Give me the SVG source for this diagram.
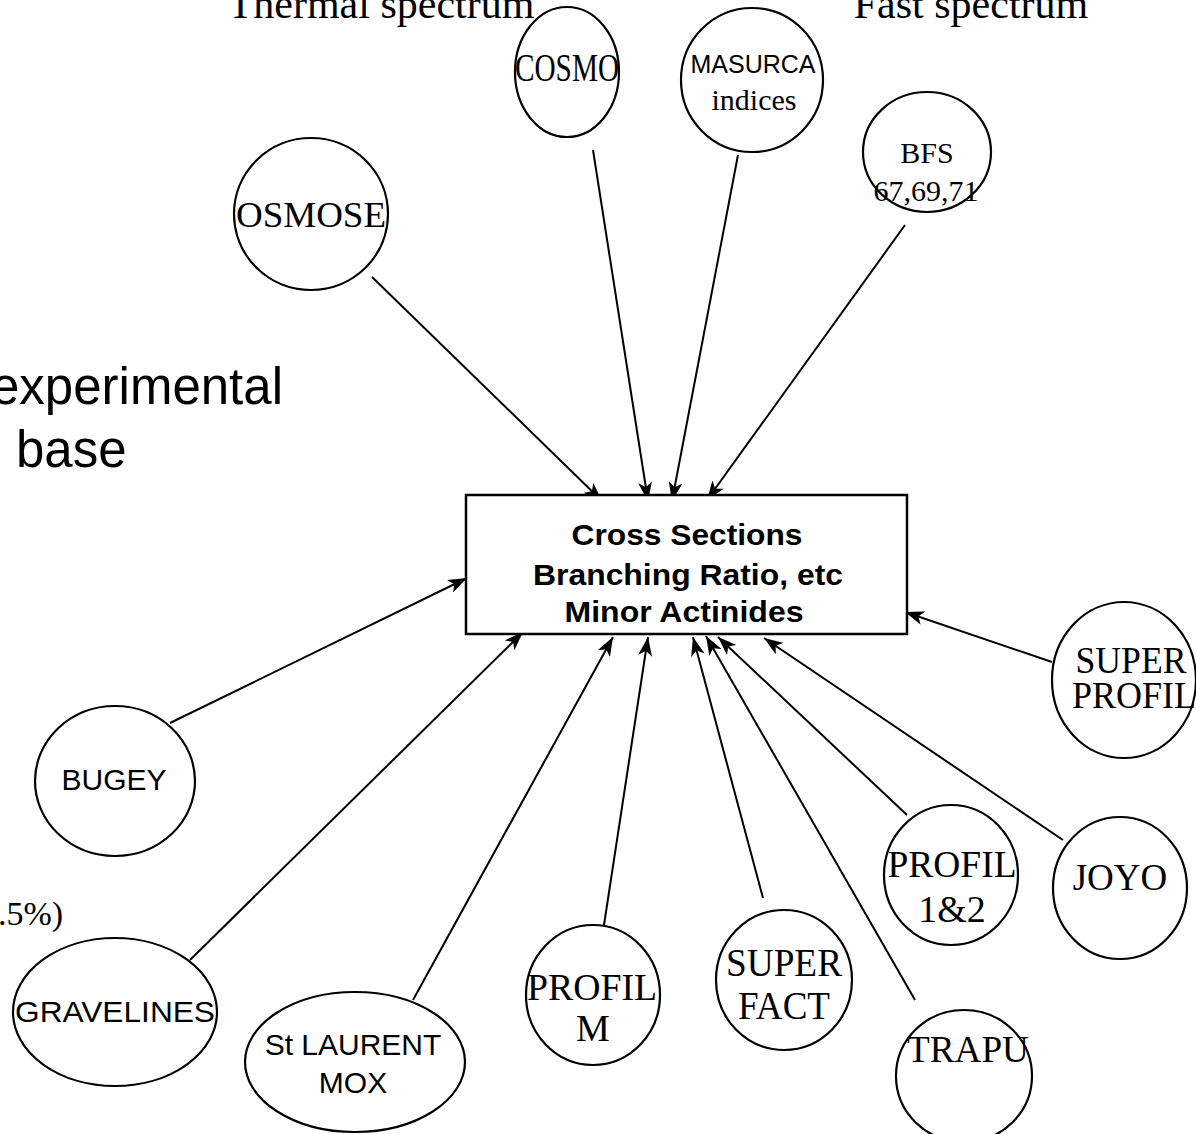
<svg xmlns="http://www.w3.org/2000/svg" width="1196" height="1134" viewBox="0 0 1196 1134">
<style>
.n{fill:#fff;stroke:#000;stroke-width:2.2}
.c{stroke:#000;stroke-width:2;fill:none;marker-end:url(#ah)}
.t{font-family:"Liberation Serif","Times New Roman",serif;fill:#000;text-anchor:middle}
.s{font-family:"Liberation Sans",Arial,sans-serif;fill:#000;text-anchor:middle}
.b{font-family:"Liberation Sans",Arial,sans-serif;font-weight:bold;font-size:30px;fill:#000;text-anchor:middle}
</style>
<defs>
<marker id="ah" markerUnits="userSpaceOnUse" markerWidth="22" markerHeight="14" refX="19" refY="7" orient="auto">
<path d="M0,0 L19,7 L0,14 L5,7 z" fill="#000"/>
</marker>
</defs>
<rect width="1196" height="1134" fill="#fff"/>
<g id="labels">
<text class="t" x="381" y="18" font-size="42">Thermal spectrum</text>
<text class="t" x="971" y="18" font-size="42">Fast spectrum</text>
<text class="s" x="-9" y="404" font-size="51" style="text-anchor:start">experimental</text>
<text class="s" x="16" y="467" font-size="51" style="text-anchor:start">base</text>
<text class="t" x="-2" y="925" font-size="34" style="text-anchor:start">.5%)</text>
</g>
<g id="connectors">
<line class="c" x1="372" y1="277" x2="602" y2="501"/>
<line class="c" x1="593" y1="150" x2="648" y2="501"/>
<line class="c" x1="738" y1="155" x2="672" y2="501"/>
<line class="c" x1="905" y1="225" x2="707" y2="500"/>
<line class="c" x1="170" y1="723" x2="467" y2="578"/>
<line class="c" x1="190" y1="960" x2="523" y2="632"/>
<line class="c" x1="413" y1="1000" x2="613" y2="637"/>
<line class="c" x1="604" y1="925" x2="648" y2="637"/>
<line class="c" x1="763" y1="898" x2="693" y2="637"/>
<line class="c" x1="915" y1="1000" x2="706" y2="636"/>
<line class="c" x1="907" y1="815" x2="718" y2="637"/>
<line class="c" x1="1063" y1="840" x2="764" y2="638"/>
<line class="c" x1="1052" y1="662" x2="905" y2="612"/>
</g>
<g id="center">
<rect x="466" y="495" width="441" height="139" fill="#fff" stroke="#000" stroke-width="2.5"/>
<text class="b" x="687" y="545" textLength="231" lengthAdjust="spacingAndGlyphs">Cross Sections</text>
<text class="b" x="688" y="585" textLength="310" lengthAdjust="spacingAndGlyphs">Branching Ratio, etc</text>
<text class="b" x="684" y="622" textLength="239" lengthAdjust="spacingAndGlyphs">Minor Actinides</text>
</g>
<g id="cosmo">
<ellipse class="n" cx="567" cy="72" rx="52" ry="65"/>
<text class="t" x="567" y="81" font-size="40" textLength="104" lengthAdjust="spacingAndGlyphs">COSMO</text>
</g>
<g id="masurca">
<ellipse class="n" cx="752" cy="80" rx="71" ry="72"/>
<text class="s" x="753" y="73" font-size="25">MASURCA</text>
<text class="t" x="754" y="110" font-size="30">indices</text>
</g>
<g id="bfs">
<ellipse class="n" cx="927" cy="152" rx="64" ry="60"/>
<text class="t" x="927" y="163" font-size="30">BFS</text>
<text class="t" x="926" y="201" font-size="30">67,69,71</text>
</g>
<g id="osmose">
<ellipse class="n" cx="311" cy="214" rx="77" ry="76"/>
<text class="t" x="311" y="227" font-size="36" textLength="150" lengthAdjust="spacingAndGlyphs">OSMOSE</text>
</g>
<g id="bugey">
<ellipse class="n" cx="115" cy="781" rx="80" ry="75"/>
<text class="s" x="114" y="790" font-size="30">BUGEY</text>
</g>
<g id="gravelines">
<ellipse class="n" cx="115" cy="1012" rx="102" ry="74"/>
<text class="s" x="115" y="1022" font-size="30" textLength="200" lengthAdjust="spacingAndGlyphs">GRAVELINES</text>
</g>
<g id="stlaurent">
<ellipse class="n" cx="355" cy="1062" rx="110" ry="70"/>
<text class="s" x="353" y="1055" font-size="30">St LAURENT</text>
<text class="s" x="353" y="1093" font-size="30">MOX</text>
</g>
<g id="profilm">
<ellipse class="n" cx="593" cy="995" rx="67" ry="70"/>
<text class="t" x="592" y="1000" font-size="38" textLength="130" lengthAdjust="spacingAndGlyphs">PROFIL</text>
<text class="t" x="593" y="1041" font-size="38">M</text>
</g>
<g id="superfact">
<ellipse class="n" cx="784" cy="980" rx="68" ry="70"/>
<text class="t" x="784" y="976" font-size="40" textLength="116" lengthAdjust="spacingAndGlyphs">SUPER</text>
<text class="t" x="784" y="1019" font-size="40" textLength="92" lengthAdjust="spacingAndGlyphs">FACT</text>
</g>
<g id="trapu">
<ellipse class="n" cx="964" cy="1076" rx="68" ry="66"/>
<text class="t" x="968" y="1062" font-size="38" textLength="122" lengthAdjust="spacingAndGlyphs">TRAPU</text>
</g>
<g id="profil12">
<ellipse class="n" cx="951" cy="875" rx="67" ry="70"/>
<text class="t" x="952" y="877" font-size="38" textLength="129" lengthAdjust="spacingAndGlyphs">PROFIL</text>
<text class="t" x="952" y="922" font-size="38">1&amp;2</text>
</g>
<g id="joyo">
<ellipse class="n" cx="1120" cy="888" rx="67" ry="71"/>
<text class="t" x="1120" y="890" font-size="37">JOYO</text>
</g>
<g id="superprofil">
<ellipse class="n" cx="1124" cy="680" rx="72" ry="78"/>
<text class="t" x="1131" y="673" font-size="38" textLength="111" lengthAdjust="spacingAndGlyphs">SUPER</text>
<text class="t" x="1134" y="708" font-size="38" textLength="124" lengthAdjust="spacingAndGlyphs">PROFIL</text>
</g>
</svg>
